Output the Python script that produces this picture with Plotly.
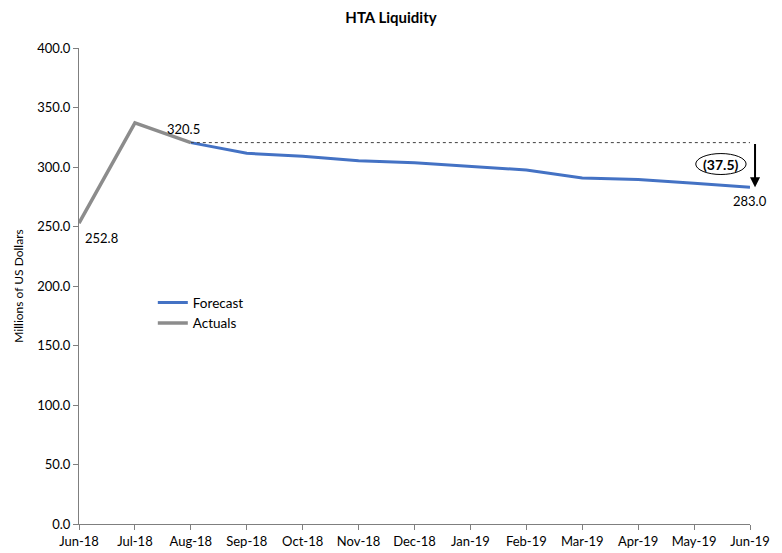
import plotly.graph_objects as go

months = ["Jun-18", "Jul-18", "Aug-18", "Sep-18", "Oct-18", "Nov-18", "Dec-18",
          "Jan-19", "Feb-19", "Mar-19", "Apr-19", "May-19", "Jun-19"]
actuals = [252.8, 337.0, 320.5]
forecast = [320.5, 311.5, 309.0, 305.3, 303.5, 300.6, 297.5, 290.8, 289.5, 286.4, 283.0]
variance_label = "(37.5)"

FONT = "Lato"
xi = list(range(len(months)))
PX_PER_UNIT_Y = 476 / 400.0  # plot height / y range

fig = go.Figure()
fig.add_trace(go.Scatter(x=xi[2:], y=forecast, mode="lines", name="Forecast",
                         line=dict(color="#4472C4", width=3)))
fig.add_trace(go.Scatter(x=xi[:3], y=actuals, mode="lines", name="Actuals",
                         line=dict(color="#8C8C8C", width=3.5)))

# dotted reference line from Aug-18 level
fig.add_shape(type="line", x0=2, x1=12.1, y0=actuals[2], y1=actuals[2],
              xref="x", yref="y", line=dict(color="#404040", width=1, dash="dot"))
# arrow down (x in paper coords since it sits just right of the last category)
fig.add_annotation(x=12.09 / 12, y=forecast[-1], xref="paper", yref="y",
                   ax=0, ay=-(actuals[2] - forecast[-1]) * PX_PER_UNIT_Y,
                   showarrow=True, arrowhead=2, arrowsize=1,
                   arrowwidth=2, arrowcolor="black", text="", standoff=0, startstandoff=0)
# oval label
fig.add_shape(type="circle", xref="x", yref="y", x0=11.03, x1=11.93, y0=293.7, y1=311.3,
              line=dict(color="black", width=1))
fig.add_annotation(x=11.48, y=302.5, xref="x", yref="y", text="<b>" + variance_label + "</b>",
                   showarrow=False, font=dict(family=FONT, size=14, color="black"))

# data labels
fig.add_annotation(x=0, y=actuals[0], xref="x", yref="y", text=f"{actuals[0]:.1f}",
                   showarrow=False, xanchor="left", yanchor="top", xshift=4, yshift=-5,
                   font=dict(family=FONT, size=13, color="black"))
fig.add_annotation(x=2, y=actuals[2], xref="x", yref="y", text=f"{actuals[2]:.1f}",
                   showarrow=False, xanchor="right", yanchor="bottom", xshift=11, yshift=4,
                   font=dict(family=FONT, size=13, color="black"))
fig.add_annotation(x=12, y=forecast[-1], xref="x", yref="y", text=f"{forecast[-1]:.1f}",
                   showarrow=False, xanchor="center", yanchor="top", yshift=-4,
                   font=dict(family=FONT, size=13, color="black"))

fig.update_layout(
    width=782, height=553,
    margin=dict(l=79, r=32, t=48, b=29, autoexpand=False),
    paper_bgcolor="white", plot_bgcolor="white",
    title=dict(text="<b>HTA Liquidity</b>", x=0.5, xanchor="center", y=0.968, yanchor="middle",
               font=dict(family=FONT, size=15, color="black")),
    font=dict(family=FONT, size=12, color="black"),
    legend=dict(x=0.11, y=0.443, xanchor="left", yanchor="middle", bgcolor="rgba(0,0,0,0)",
                font=dict(family=FONT, size=13.5), tracegroupgap=0, itemwidth=30),
    showlegend=True,
)
fig.update_xaxes(range=[0, 12], tickvals=xi, ticktext=months, showgrid=False,
                 showline=True, linecolor="#7F7F7F", linewidth=1, ticks="outside",
                 tickcolor="#7F7F7F", ticklen=5, zeroline=False,
                 tickfont=dict(family=FONT, size=13))
fig.update_yaxes(range=[0, 400], dtick=50, tickformat=".1f", showgrid=False,
                 showline=True, linecolor="#7F7F7F", linewidth=1, ticks="outside",
                 tickcolor="#7F7F7F", ticklen=5, zeroline=False,
                 title=dict(text="Millions of US Dollars", font=dict(family=FONT, size=12), standoff=10),
                 tickfont=dict(family=FONT, size=13))

fig.write_html("out.html", config={"displayModeBar": False},
               post_script="document.body.style.margin='0';document.body.style.padding='0';")
